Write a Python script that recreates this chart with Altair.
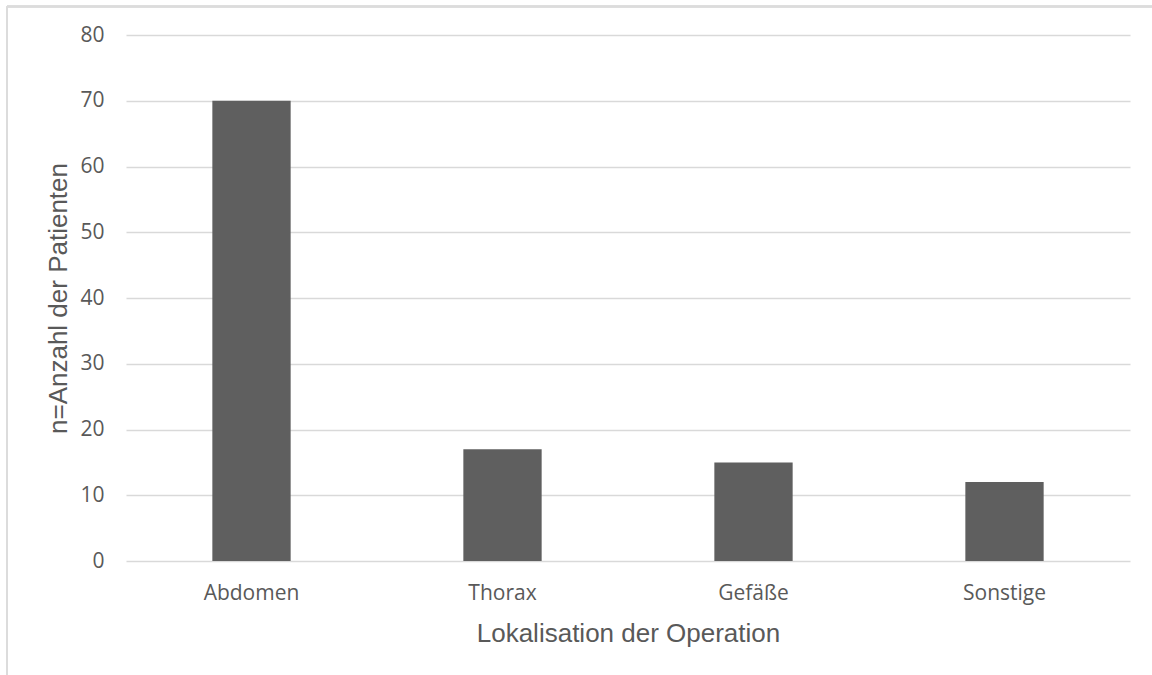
import altair as alt
import pandas as pd

# Operation sites and patient counts
categories = ["Abdomen", "Thorax", "Gefäße", "Sonstige"]
patients = [70, 17, 15, 12]

df = pd.DataFrame({"Lokalisation": categories, "Anzahl": patients})

GRID = "#d9d9d9"
TEXT = "#595959"
BAR = "#5f5f5f"

bars = alt.Chart(df).mark_bar(color=BAR).encode(
    x=alt.X(
        "Lokalisation:N",
        sort=categories,
        scale=alt.Scale(paddingInner=0.688, paddingOuter=0.344),
        axis=alt.Axis(
            title="Lokalisation der Operation",
            labelAngle=0,
            labelFont="Open Sans",
            labelFontSize=21,
            labelColor=TEXT,
            labelPadding=21,
            ticks=False,
            domain=False,
            grid=False,
            titleFont="Liberation Sans",
            titleFontSize=26,
            titleFontWeight="normal",
            titleColor=TEXT,
            titlePadding=17,
        ),
    ),
    y=alt.Y(
        "Anzahl:Q",
        scale=alt.Scale(domain=[0, 80], nice=False),
        axis=alt.Axis(
            title="n=Anzahl der Patienten",
            values=[0, 10, 20, 30, 40, 50, 60, 70, 80],
            labelFont="Open Sans",
            labelFontSize=21,
            labelColor=TEXT,
            labelPadding=22,
            ticks=False,
            domain=False,
            grid=True,
            gridColor=GRID,
            gridWidth=1.5,
            titleFont="Liberation Sans",
            titleFontSize=26,
            titleFontWeight="normal",
            titleColor=TEXT,
            titlePadding=8,
        ),
    ),
)

# Chart frame: only the top and left edges fall inside the page
frame_top = alt.Chart(df).mark_rule(color="#dcdcdc", strokeWidth=2).encode(
    x=alt.value(-119), x2=alt.value(1040), y=alt.value(-28.5)
)
frame_left = alt.Chart(df).mark_rule(color="#dcdcdc", strokeWidth=2).encode(
    x=alt.value(-119), y=alt.value(-28.5), y2=alt.value(650)
)

chart = (
    alt.layer(bars, frame_top, frame_left)
    .properties(
        width=1004,
        height=526,
        background="white",
        autosize=alt.AutoSizeParams(type="none"),
        padding={"left": 126, "top": 35, "right": 22, "bottom": 114},
    )
    .configure_view(stroke=None, strokeWidth=0)
)

chart.save("out.html", embed_options={"renderer": "svg", "actions": False})
